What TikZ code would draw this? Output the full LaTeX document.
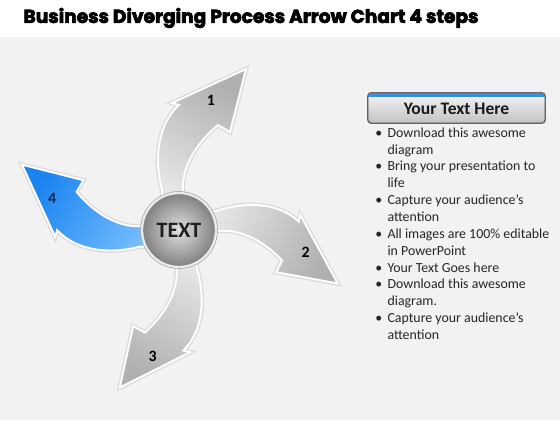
\documentclass[tikz,border=0pt]{standalone}
\usepackage{fontspec}
\usepackage{graphicx}
\setmainfont{Carlito}
\newfontfamily\titlefont{Poppins}

\definecolor{bgcol}{HTML}{F2F2F2}
\definecolor{grylight}{HTML}{EEEEEE}
\definecolor{grydark}{HTML}{B0B0B0}
\definecolor{bluelight}{HTML}{80C4FF}
\definecolor{bluedark}{HTML}{1A84F0}
\definecolor{labnavy}{HTML}{1B2540}
\definecolor{hdrblue}{HTML}{3A8EDC}

\tikzset{
  arrowbody/.style={draw=white, line width=1.1pt, line join=miter,
    preaction={draw=black!14, line width=2.6pt}},
  steplabel/.style={font=\bfseries\fontsize{9}{10}\selectfont},
  hub/.style={circle, minimum size=1.48cm, inner sep=0pt,
    inner color=black!12, outer color=black!50,
    draw=black!8, line width=1.3pt,
    preaction={draw=black!35, line width=2.1pt},
    font=\bfseries\fontsize{12.5}{14}\selectfont, text=black!88},
  hdrbox/.style={rectangle, rounded corners=2pt, minimum width=3.54cm,
    minimum height=0.6cm, top color=black!4, bottom color=black!24,
    draw=black!60, line width=0.5pt},
  bullets/.style={inner sep=0pt, align=left,
    font=\fontsize{7.9}{9.6}\selectfont, text=black!85}
}

\begin{document}
\begin{tikzpicture}[x=0.02cm, y=0.02cm]
  % background and title band
  \fill[bgcol] (0,0) rectangle (560,420);
  \fill[white] (0,383) rectangle (560,420);
  \node (title) at (251,402) {\resizebox{9.1cm}{!}{\special{pdf:literal direct 2 Tr 0.35 w}\titlefont\bfseries Business Diverging Process Arrow Chart 4 steps\special{pdf:literal direct 0 Tr}}};

  \coordinate (cen) at (179,190);

  % the four curved arrows
  \foreach \ang/\sc/\cdark/\clight/\num/\ncol [count=\i] in
      {0/1.00/grydark/grylight/1/black,
       -86/0.96/grydark/grylight/2/black,
       -178/0.965/grydark/grylight/3/black,
       -270/0.975/bluedark/bluelight/4/labnavy}{
    \pgfmathsetmacro\shang{-30+\ang}
    \begin{scope}[shift={(cen)}, rotate=\ang, scale=\sc]
      \shadedraw[arrowbody, top color=\cdark, bottom color=\clight, shading angle=\shang]
        (-6,0) -- (-17,36) -- (-17,40) .. controls (-25,70) and (-22,105) .. (0,125)
        -- (-7,127) -- (67,161) -- (51,98) -- (39,105)
        .. controls (15,85) and (2,60) .. (4,38) -- (4,36) -- cycle;
      \node[steplabel, text=\ncol] (num\i) at (32,130) {\num};
    \end{scope}
  }

  % centre
  \node[hub] (hub) at (cen) {TEXT};

  % text panel
  \node[hdrbox] (hdr) at (456.5,312) {};
  \begin{scope}
    \clip[rounded corners=2pt] (hdr.north west) rectangle (hdr.south east);
    \fill[hdrblue] (hdr.north west) rectangle ([yshift=-0.08cm]hdr.north east);
  \end{scope}
  \draw[rounded corners=2pt, draw=black!60, line width=0.5pt] (hdr.north west) rectangle (hdr.south east);
  \node[font=\bfseries\fontsize{10}{12}\selectfont, text=black!90] (hdrtext) at ([yshift=-0.02cm]hdr.center) {Your Text Here};

  \node[bullets, anchor=north west] (list) at (375,295) {%
    \begin{tabular}{@{}l@{\hspace{3pt}}l@{}}
      \textbullet & Download this awesome\\
                  & diagram\\
      \textbullet & Bring your presentation to\\
                  & life\\
      \textbullet & Capture your audience’s\\
                  & attention\\
      \textbullet & All images are 100\% editable\\
                  & in PowerPoint\\
      \textbullet & Your Text Goes here\\
      \textbullet & Download this awesome\\
                  & diagram.\\
      \textbullet & Capture your audience’s\\
                  & attention
    \end{tabular}};
\end{tikzpicture}
\end{document}
